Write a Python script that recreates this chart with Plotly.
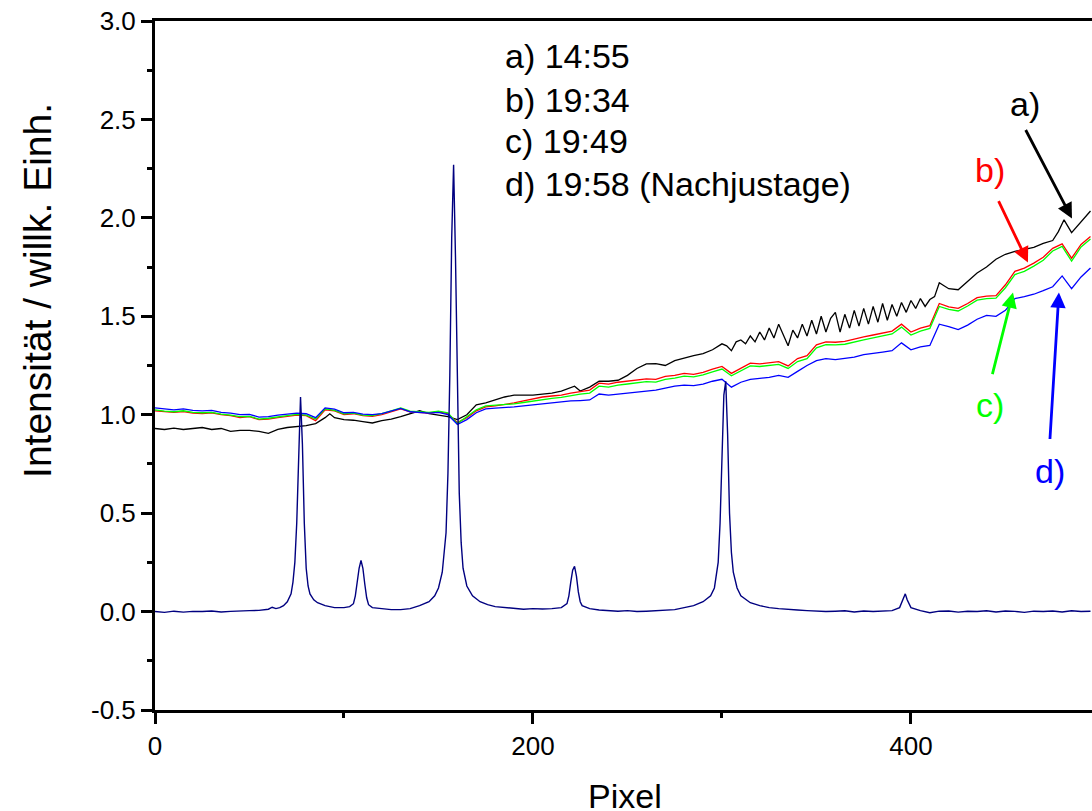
import plotly.graph_objects as go

# ---------------- data ----------------
x_grid = list(range(0, 500, 5))

b_1934 = [1.020, 1.015, 1.012, 1.016, 1.008, 1.006, 1.010, 1.000, 0.995, 0.985,
          0.990, 0.975, 0.978, 0.985, 0.992, 0.998, 0.995, 0.970, 1.025, 1.020,
          1.000, 1.005, 0.995, 0.992, 1.000, 1.015, 1.030, 1.015, 1.010, 1.008,
          1.015, 1.005, 0.960, 0.985, 1.020, 1.040, 1.045, 1.052, 1.060, 1.070,
          1.080, 1.090, 1.095, 1.100, 1.110, 1.118, 1.125, 1.160, 1.155, 1.165,
          1.170, 1.176, 1.182, 1.180, 1.195, 1.200, 1.210, 1.205, 1.215, 1.232,
          1.245, 1.210, 1.235, 1.262, 1.258, 1.265, 1.270, 1.248, 1.285, 1.300,
          1.355, 1.370, 1.368, 1.372, 1.385, 1.395, 1.405, 1.415, 1.425, 1.460,
          1.420, 1.440, 1.452, 1.565, 1.548, 1.540, 1.565, 1.595, 1.602, 1.605,
          1.660, 1.728, 1.745, 1.770, 1.800, 1.845, 1.868, 1.795, 1.865, 1.905]

c_1949 = [1.025, 1.018, 1.015, 1.020, 1.012, 1.010, 1.012, 1.003, 0.998, 0.990,
          0.992, 0.978, 0.982, 0.990, 0.995, 1.002, 0.998, 0.978, 1.030, 1.022,
          1.004, 1.008, 0.998, 0.996, 1.005, 1.020, 1.035, 1.018, 1.014, 1.012,
          1.018, 1.010, 0.955, 0.990, 1.025, 1.045, 1.048, 1.050, 1.055, 1.062,
          1.070, 1.078, 1.083, 1.088, 1.097, 1.105, 1.110, 1.145, 1.140, 1.150,
          1.156, 1.162, 1.168, 1.166, 1.180, 1.186, 1.196, 1.192, 1.202, 1.218,
          1.232, 1.198, 1.222, 1.248, 1.245, 1.252, 1.256, 1.235, 1.270, 1.285,
          1.340, 1.356, 1.355, 1.358, 1.370, 1.380, 1.390, 1.400, 1.410, 1.445,
          1.405, 1.425, 1.438, 1.550, 1.535, 1.527, 1.552, 1.582, 1.590, 1.592,
          1.645, 1.712, 1.728, 1.755, 1.785, 1.832, 1.855, 1.780, 1.852, 1.893]

d_1958 = [1.035, 1.030, 1.025, 1.030, 1.022, 1.020, 1.022, 1.012, 1.008, 1.000,
          1.002, 0.988, 0.990, 0.998, 1.003, 1.008, 1.005, 0.985, 1.035, 1.028,
          1.010, 1.012, 1.003, 1.000, 1.006, 1.018, 1.032, 1.015, 1.012, 1.008,
          1.012, 1.000, 0.950, 0.975, 1.010, 1.030, 1.033, 1.035, 1.040, 1.045,
          1.050, 1.058, 1.060, 1.065, 1.070, 1.072, 1.075, 1.105, 1.100, 1.105,
          1.110, 1.115, 1.123, 1.125, 1.135, 1.145, 1.150, 1.148, 1.155, 1.170,
          1.180, 1.140, 1.165, 1.180, 1.185, 1.190, 1.200, 1.190, 1.220, 1.250,
          1.275, 1.285, 1.280, 1.285, 1.292, 1.305, 1.310, 1.318, 1.325, 1.365,
          1.330, 1.345, 1.352, 1.460, 1.448, 1.432, 1.455, 1.485, 1.505, 1.500,
          1.530, 1.590, 1.600, 1.612, 1.630, 1.650, 1.705, 1.640, 1.700, 1.745]

a_x = [0, 5, 10, 15, 20, 25, 30, 35, 40, 45, 50, 55, 60, 65, 70, 75, 80, 85, 90,
       92.5, 95, 100, 105, 110, 115, 120, 125, 130, 135, 140, 145, 150, 155, 160,
       165, 170, 175, 180, 185, 190, 195, 200, 205, 210, 215, 220, 222, 225, 230,
       235, 240, 245, 250, 255, 260, 265, 270, 275, 280, 285, 290, 295, 300,
       302.5, 305, 307.5, 310, 312.5, 315, 317.5, 320, 322.5, 325, 327.5, 330,
       332.5, 335, 337.5, 340, 342.5, 345, 347.5, 350, 352.5, 355, 357.5, 360,
       362.5, 365, 367.5, 370, 372.5, 375, 377.5, 380, 382.5, 385, 387.5, 390,
       392.5, 395, 397.5, 400, 402.5, 405, 407.5, 410, 412.5, 415, 417.5, 420,
       425, 430, 435, 440, 445, 450, 455, 460, 465, 470, 475, 478, 481, 485,
       490, 495]
a_1455 = [0.930, 0.925, 0.932, 0.925, 0.930, 0.935, 0.925, 0.930, 0.915, 0.920,
          0.920, 0.915, 0.905, 0.925, 0.935, 0.940, 0.945, 0.955, 0.985,
          1.005, 0.985, 0.975, 0.972, 0.965, 0.958, 0.970, 0.978, 0.990, 1.005,
          1.020, 1.005, 0.998, 0.990, 0.975,
          1.000, 1.050, 1.060, 1.075, 1.090, 1.100, 1.100, 1.100, 1.105, 1.110,
          1.120, 1.140, 1.145, 1.120, 1.140,
          1.170, 1.170, 1.175, 1.200, 1.235, 1.258, 1.260, 1.250, 1.275, 1.288,
          1.300, 1.310, 1.330, 1.360,
          1.350, 1.325, 1.370, 1.380, 1.360, 1.400, 1.370, 1.420, 1.380, 1.440,
          1.390, 1.460, 1.400, 1.350, 1.430, 1.390, 1.460, 1.400, 1.480, 1.410,
          1.500, 1.420, 1.490, 1.520, 1.420, 1.510, 1.440, 1.530, 1.450, 1.540,
          1.460, 1.550, 1.470, 1.565, 1.480, 1.560, 1.500, 1.570, 1.520, 1.580,
          1.540, 1.590, 1.550, 1.585, 1.600, 1.670, 1.655, 1.640,
          1.635, 1.680, 1.720, 1.750, 1.790, 1.815, 1.830, 1.840, 1.850, 1.870,
          1.885, 1.930, 1.990, 1.925, 1.980, 2.035]

spec_x = [0, 5, 10, 15, 20, 25, 30, 35, 40, 45, 50, 55, 60, 62, 64, 66, 68, 70,
          72, 73, 74, 75, 76, 77, 78, 79, 80, 81, 82, 84, 86, 90, 95, 100, 103,
          105, 106, 107, 108, 109, 110, 111, 112, 113, 115, 120, 125, 130, 135,
          140, 145, 148, 150, 152, 154, 155, 156, 157, 158, 159, 160, 161, 162,
          163, 165, 168, 172, 176, 180, 185, 190, 195, 200, 205, 210, 215, 218,
          219, 220, 221, 222, 223, 224, 225, 226, 230, 235, 240, 245, 250, 255,
          260, 265, 270, 275, 280, 285, 290, 294, 296, 298, 299, 300, 301, 302,
          303, 304, 305, 306, 308, 310, 315, 320, 325, 330, 335, 340, 345, 350,
          355, 360, 365, 370, 375, 380, 385, 390, 394, 396, 397, 398, 400, 405,
          410, 415, 420, 425, 430, 435, 440, 445, 450, 455, 460, 465, 470, 475,
          480, 485, 490, 495]
spec_y = [0.000, -0.004, 0.002, -0.003, 0.001, 0.000, 0.003, -0.002, 0.001, 0.004,
          0.005, 0.006, 0.012, 0.022, 0.015, 0.020, 0.030, 0.050,
          0.090, 0.150, 0.250, 0.450, 0.800, 1.090, 0.850, 0.450, 0.220, 0.130,
          0.090, 0.060, 0.045, 0.030, 0.020, 0.020, 0.025,
          0.040, 0.080, 0.150, 0.220, 0.260, 0.220, 0.140, 0.070, 0.035, 0.020,
          0.015, 0.010, 0.010, 0.015,
          0.030, 0.050, 0.080, 0.120, 0.200, 0.400, 0.700, 1.200, 1.900, 2.270,
          1.800, 1.100, 0.600, 0.350,
          0.220, 0.130, 0.080, 0.050, 0.035, 0.025, 0.020, 0.015, 0.012, 0.015,
          0.013, 0.015, 0.020, 0.040,
          0.080, 0.150, 0.210, 0.230, 0.180, 0.100, 0.050, 0.030, 0.015, 0.008,
          0.005, 0.002, 0.005, 0.000,
          0.002, 0.004, 0.006, 0.010, 0.020, 0.030, 0.050, 0.080, 0.120, 0.250,
          0.450, 0.800, 1.100, 1.170,
          0.900, 0.500, 0.300, 0.200, 0.120, 0.080, 0.045, 0.030, 0.020, 0.015,
          0.010, 0.008, 0.005, 0.003,
          0.000, 0.002, 0.004, -0.002, 0.003, 0.000, 0.004, 0.005, 0.020, 0.070,
          0.090, 0.060, 0.020, 0.005,
          -0.006, 0.002, 0.003, -0.003, 0.002, 0.000, 0.004, -0.002, 0.003, 0.001,
          -0.004, 0.002, 0.000, 0.003,
          -0.002, 0.004, 0.000, 0.002]

y_tickvals = [-0.5, 0.0, 0.5, 1.0, 1.5, 2.0, 2.5, 3.0]
y_ticktext = ["-0.5", "0.0", "0.5", "1.0", "1.5", "2.0", "2.5", "3.0"]
x_tickvals = [0, 200, 400]
x_ticktext = ["0", "200", "400"]

legend_lines = ["a) 14:55", "b) 19:34", "c) 19:49", "d) 19:58 (Nachjustage)"]
legend_y = [2.82, 2.60, 2.388, 2.17]

FONT = "Liberation Sans, Arial, sans-serif"

fig = go.Figure()
fig.add_trace(go.Scatter(x=a_x, y=a_1455, mode="lines", line=dict(color="#000000", width=1.3)))
fig.add_trace(go.Scatter(x=x_grid, y=b_1934, mode="lines", line=dict(color="#ff0000", width=1.3)))
fig.add_trace(go.Scatter(x=x_grid, y=c_1949, mode="lines", line=dict(color="#00ff00", width=1.3)))
fig.add_trace(go.Scatter(x=x_grid, y=d_1958, mode="lines", line=dict(color="#0000ff", width=1.3)))
fig.add_trace(go.Scatter(x=spec_x, y=spec_y, mode="lines", line=dict(color="#000080", width=1.4)))

annotations = []
for txt, yy in zip(legend_lines, legend_y):
    annotations.append(dict(x=184.1, y=yy, xref="x", yref="y", text=txt, showarrow=False,
                            xanchor="left", yanchor="middle",
                            font=dict(family=FONT, size=34, color="black")))

labels = [
    # text, color, text pos, arrow tail, arrow tip
    ("a)", "#000000", (460.3, 2.58), (460.3, 2.454), (485.2, 1.997)),
    ("b)", "#ff0000", (441.8, 2.241), (446.0, 2.093), (461.9, 1.773)),
    ("c)", "#00ff00", (441.8, 1.047), (442.9, 1.199), (454.0, 1.621)),
    ("d)", "#0000ff", (473.5, 0.716), (473.5, 0.869), (478.3, 1.621)),
]
for txt, col, tpos, tail, tip in labels:
    annotations.append(dict(x=tpos[0], y=tpos[1], xref="x", yref="y", text=txt,
                            showarrow=False, xanchor="center", yanchor="middle",
                            font=dict(family=FONT, size=34, color=col)))
    annotations.append(dict(x=tip[0], y=tip[1], xref="x", yref="y", text="",
                            showarrow=True, ax=tail[0], ay=tail[1], axref="x", ayref="y",
                            arrowhead=2, arrowsize=1.1, arrowwidth=2.8, arrowcolor=col))

annotations.append(dict(x=0.5016, y=-0.125, xref="paper", yref="paper", text="Pixel",
                        showarrow=False, xanchor="center", yanchor="middle",
                        font=dict(family=FONT, size=34, color="black")))
annotations.append(dict(x=-0.1249, y=0.6096, xref="paper", yref="paper",
                        text="Intensität / willk. Einh.", textangle=-90,
                        showarrow=False, xanchor="center", yanchor="middle",
                        font=dict(family=FONT, size=39, color="black")))

fig.update_layout(
    width=1092, height=811,
    margin=dict(l=155, r=0, t=21, b=101),
    paper_bgcolor="white", plot_bgcolor="white",
    showlegend=False,
    font=dict(family=FONT, size=26, color="black"),
    annotations=annotations,
)
fig.update_xaxes(range=[0, 495.8], showgrid=False, zeroline=False,
                 showline=True, linewidth=3, linecolor="black", mirror=True,
                 ticks="outside", ticklen=11, tickwidth=3, tickcolor="black",
                 tickmode="array", tickvals=x_tickvals, ticktext=x_ticktext,
                 minor=dict(ticks="outside", ticklen=5, tickwidth=3, tickcolor="black",
                            tickmode="array", tickvals=[100, 300], showgrid=False),
                 tickfont=dict(family=FONT, size=26, color="black"))
fig.update_yaxes(range=[-0.5, 3.0], showgrid=False, zeroline=False,
                 showline=True, linewidth=3, linecolor="black", mirror=False,
                 ticks="outside", ticklen=11, tickwidth=3, tickcolor="black",
                 tickmode="array", tickvals=y_tickvals, ticktext=y_ticktext,
                 minor=dict(ticks="outside", ticklen=5, tickwidth=3, tickcolor="black",
                            tickmode="array",
                            tickvals=[-0.25, 0.25, 0.75, 1.25, 1.75, 2.25, 2.75],
                            showgrid=False),
                 tickfont=dict(family=FONT, size=26, color="black"))

fig.write_html("out.html")
